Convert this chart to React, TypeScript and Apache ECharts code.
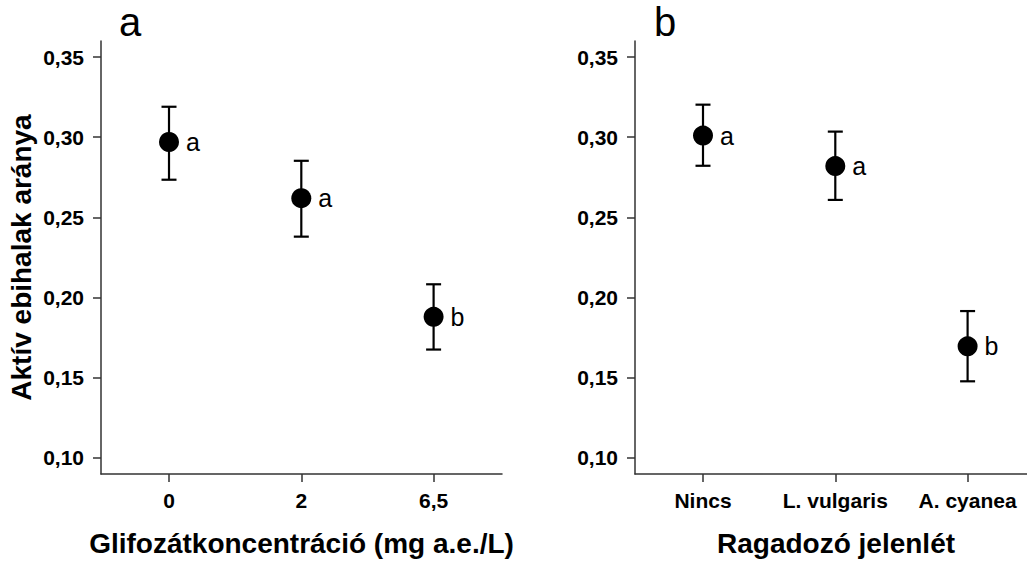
import React, { useEffect, useRef } from "react";
import * as echarts from "echarts";

const concCats = ["0", "2", "6,5"];
const concMean = [0.297, 0.262, 0.188];
const concLow = [0.2735, 0.238, 0.1676];
const concHigh = [0.319, 0.2853, 0.2083];
const concLetters = ["a", "a", "b"];

const predCats = ["Nincs", "L. vulgaris", "A. cyanea"];
const predMean = [0.301, 0.282, 0.1696];
const predLow = [0.2822, 0.2609, 0.1478];
const predHigh = [0.3203, 0.3035, 0.1916];
const predLetters = ["a", "a", "b"];

const yTicks = [0.1, 0.15, 0.2, 0.25, 0.3, 0.35];
const xTicks = [0, 1, 2];

const FONT = "'Liberation Sans', Arial, Helvetica, sans-serif";
const AXIS_COLOR = "#333";

function xAxisFor(gridIndex: number, cats: string[], name: string, max: number, namePadLeft: number) {
  return {
    type: "value",
    gridIndex,
    min: -0.514,
    max,
    name,
    nameLocation: "middle",
    nameGap: 55,
    nameTextStyle: {
      fontSize: 28,
      fontWeight: "bold",
      color: "#000",
      fontFamily: FONT,
      padding: [0, 0, 0, namePadLeft],
    },
    axisLine: { show: true, onZero: false, lineStyle: { color: AXIS_COLOR, width: 1.5 } },
    axisTick: { show: true, length: 8, customValues: xTicks, lineStyle: { color: AXIS_COLOR, width: 1.5 } },
    axisLabel: {
      customValues: xTicks,
      formatter: (v: number) => cats[Math.round(v)] ?? "",
      fontSize: 21,
      fontWeight: "bold",
      color: "#000",
      fontFamily: FONT,
      margin: 16,
    },
    splitLine: { show: false },
  };
}

function yAxisFor(gridIndex: number, name: string) {
  return {
    type: "value",
    gridIndex,
    min: 0.09,
    max: 0.36,
    name,
    nameLocation: "middle",
    nameGap: 66,
    nameTextStyle: { fontSize: 28, fontWeight: "bold", color: "#000", fontFamily: FONT },
    axisLine: { show: true, onZero: false, lineStyle: { color: AXIS_COLOR, width: 1.5 } },
    axisTick: { show: true, length: 8, customValues: yTicks, lineStyle: { color: AXIS_COLOR, width: 1.5 } },
    axisLabel: {
      customValues: yTicks,
      formatter: (v: number) => v.toFixed(2).replace(".", ","),
      fontSize: 21,
      fontWeight: "bold",
      color: "#000",
      fontFamily: FONT,
      margin: 17,
    },
    splitLine: { show: false },
  };
}

function errSeries(idx: number, low: number[], high: number[]) {
  return {
    type: "custom",
    xAxisIndex: idx,
    yAxisIndex: idx,
    data: low.map((l, i) => [i, l, high[i]]),
    encode: { x: 0, y: [1, 2] },
    z: 2,
    renderItem: (params: any, api: any) => {
      const x = api.value(0);
      const lo = api.coord([x, api.value(1)]);
      const hi = api.coord([x, api.value(2)]);
      const w = 7.5;
      const style = { stroke: "#000", lineWidth: 2.2 };
      return {
        type: "group",
        children: [
          { type: "line", shape: { x1: lo[0], y1: lo[1], x2: hi[0], y2: hi[1] }, style },
          { type: "line", shape: { x1: hi[0] - w, y1: hi[1], x2: hi[0] + w, y2: hi[1] }, style },
          { type: "line", shape: { x1: lo[0] - w, y1: lo[1], x2: lo[0] + w, y2: lo[1] }, style },
        ],
      };
    },
  };
}

function pointSeries(idx: number, mean: number[], letters: string[]) {
  return {
    type: "scatter",
    xAxisIndex: idx,
    yAxisIndex: idx,
    symbol: "circle",
    symbolSize: 20,
    itemStyle: { color: "#000", opacity: 1 },
    z: 3,
    data: mean.map((m, i) => [i, m]),
    label: {
      show: true,
      position: "right",
      distance: 7,
      formatter: (p: any) => letters[p.dataIndex],
      fontSize: 25,
      color: "#000",
      opacity: 1,
      fontFamily: FONT,
    },
  };
}

export default function App() {
  const ref = useRef<HTMLDivElement>(null);
  useEffect(() => {
    if (!ref.current) return;
    const chart = echarts.init(ref.current, undefined, { renderer: "svg" });
    chart.setOption({
      animation: false,
      backgroundColor: "#fff",
      grid: [
        { left: 101, top: 41, width: 401, height: 434 },
        { left: 635, top: 41, right: 0, height: 434 },
      ],
      xAxis: [
        xAxisFor(0, concCats, "Glifozátkoncentráció (mg a.e./L)", 2.517, 0),
        xAxisFor(1, predCats, "Ragadozó jelenlét", 2.449, 10),
      ],
      yAxis: [yAxisFor(0, "Aktív ebihalak aránya"), yAxisFor(1, "")],
      graphic: [
        {
          type: "text",
          style: { text: "a", x: 119, y: 22, fontSize: 40, fontFamily: FONT, fill: "#000", verticalAlign: "middle" },
        },
        {
          type: "text",
          style: { text: "b", x: 654, y: 22, fontSize: 40, fontFamily: FONT, fill: "#000", verticalAlign: "middle" },
        },
      ],
      series: [
        errSeries(0, concLow, concHigh),
        pointSeries(0, concMean, concLetters),
        errSeries(1, predLow, predHigh),
        pointSeries(1, predMean, predLetters),
      ],
    });
    return () => chart.dispose();
  }, []);
  return (
    <div
      ref={ref}
      style={{ position: "absolute", left: 0, top: 0, width: 1027, height: 562 }}
    />
  );
}
